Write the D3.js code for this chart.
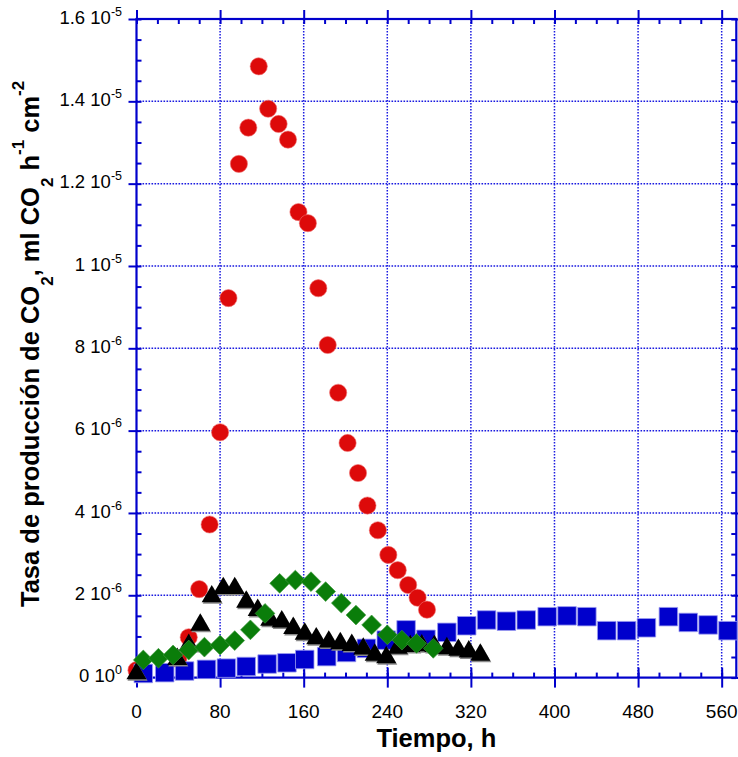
<!DOCTYPE html>
<html>
<head>
<meta charset="utf-8">
<script src="https://cdn.jsdelivr.net/npm/d3@7"></script>
<style>
  html, body { margin: 0; padding: 0; background: #fff; }
  svg { display: block; font-family: "Liberation Sans", Arial, sans-serif; }
</style>
</head>
<body>
<svg id="chart" width="738" height="757"></svg>
<script>
// ---- Data ----
const redX = [0, 40, 50, 60, 70, 80, 88, 98, 107, 117, 126, 136, 145, 155, 164, 174, 183, 193, 202, 212, 221, 231, 241, 250, 260, 269, 278];
const redY = [0.18, 0.45, 0.98, 2.15, 3.72, 5.96, 9.22, 12.48, 13.36, 14.85, 13.82, 13.45, 13.07, 11.31, 11.04, 9.46, 8.08, 6.92, 5.70, 4.97, 4.18, 3.58, 2.98, 2.61, 2.25, 1.94, 1.65];

const blackX = [0, 39, 50, 61, 72, 83, 94, 105, 116, 128, 139, 150, 161, 172, 184, 195, 206, 217, 228, 239, 250, 262, 273, 285, 297, 308, 318, 329];
const blackY = [0.10, 0.45, 0.79, 1.28, 1.97, 2.17, 2.17, 1.84, 1.64, 1.40, 1.36, 1.20, 1.06, 0.95, 0.87, 0.83, 0.79, 0.70, 0.55, 0.49, 0.72, 0.76, 0.78, 0.76, 0.71, 0.67, 0.63, 0.55];

const greenX = [6.5, 21, 35, 50, 65, 80, 94, 109, 123, 137, 152, 167, 181, 196, 210, 225, 240, 254, 268, 284];
const greenY = [0.43, 0.47, 0.55, 0.67, 0.74, 0.79, 0.90, 1.16, 1.56, 2.29, 2.37, 2.33, 2.09, 1.81, 1.52, 1.28, 1.04, 0.91, 0.83, 0.71];

const blueX = [6.5, 27, 46, 67, 86, 105, 125, 144, 161, 182, 201, 220, 239, 258, 277, 297, 316, 335, 354, 373, 393, 412, 431, 450, 469, 488, 509, 528, 547, 566];
const blueY = [0.10, 0.12, 0.16, 0.20, 0.23, 0.27, 0.33, 0.36, 0.44, 0.51, 0.61, 0.71, 0.91, 1.16, 0.93, 1.10, 1.26, 1.40, 1.37, 1.40, 1.48, 1.50, 1.48, 1.14, 1.14, 1.21, 1.48, 1.34, 1.28, 1.14];
const yUnit = 1e-6;

const xTicks = [0, 80, 160, 240, 320, 400, 480, 560];
const yTickVals = [0, 2e-6, 4e-6, 6e-6, 8e-6, 1e-5, 1.2e-5, 1.4e-5, 1.6e-5];
const yTickMant = ["0", "2", "4", "6", "8", "1", "1.2", "1.4", "1.6"];
const yTickExp  = ["0", "-6", "-6", "-6", "-6", "-5", "-5", "-5", "-5"];

// ---- Layout ----
const svg = d3.select("#chart");
const L = 136.5, R = 736.3, T = 19, B = 677.6;
const x = d3.scaleLinear().domain([0, 574]).range([L, R]);
const y = d3.scaleLinear().domain([0, 1.6e-5]).range([B, T]);
const axisBlue = "#0000cc";

// grid
const grid = svg.append("g");
grid.selectAll("line.gx").data(xTicks.filter(d => d > 0)).join("line")
  .attr("x1", d => x(d)).attr("x2", d => x(d)).attr("y1", T).attr("y2", B)
  .attr("stroke", "#1a1ae0").attr("stroke-width", 1.5).attr("stroke-dasharray", "1.6,1.4");
grid.selectAll("line.gy").data(yTickVals.filter(d => d > 0 && d < 1.6e-5)).join("line")
  .attr("x1", L).attr("x2", R).attr("y1", d => y(d)).attr("y2", d => y(d))
  .attr("stroke", "#1a1ae0").attr("stroke-width", 1.5).attr("stroke-dasharray", "1.6,1.4");

// axes via d3 axis generators
const xMinor = d3.range(0, 575, 20);
const yMinor = d3.range(0, 1.6e-5 + 1e-12, 5e-7);

function styleAxis(g) {
  g.select(".domain").remove();
  g.selectAll(".tick line").attr("stroke", axisBlue).attr("stroke-width", 2);
}
// bottom minor (inward)
svg.append("g").attr("transform", `translate(0,${B})`)
  .call(d3.axisBottom(x).tickValues(xMinor).tickSize(-5).tickFormat(""))
  .call(styleAxis);
// bottom major (crossing)
svg.append("g").attr("transform", `translate(0,${B})`)
  .call(d3.axisBottom(x).tickValues(xTicks).tickSize(10).tickFormat(""))
  .call(styleAxis);
svg.append("g").attr("transform", `translate(0,${B})`)
  .call(d3.axisBottom(x).tickValues(xTicks).tickSize(-10).tickFormat(""))
  .call(styleAxis);
// top
svg.append("g").attr("transform", `translate(0,${T})`)
  .call(d3.axisTop(x).tickValues(xMinor).tickSize(-5).tickFormat(""))
  .call(styleAxis);
svg.append("g").attr("transform", `translate(0,${T})`)
  .call(d3.axisTop(x).tickValues(xTicks).tickSize(9).tickFormat(""))
  .call(styleAxis);
// left
svg.append("g").attr("transform", `translate(${L},0)`)
  .call(d3.axisLeft(y).tickValues(yMinor).tickSize(-5).tickFormat(""))
  .call(styleAxis);
svg.append("g").attr("transform", `translate(${L},0)`)
  .call(d3.axisLeft(y).tickValues(yTickVals).tickSize(8).tickFormat(""))
  .call(styleAxis);
// right
svg.append("g").attr("transform", `translate(${R},0)`)
  .call(d3.axisRight(y).tickValues(yMinor).tickSize(-5).tickFormat(""))
  .call(styleAxis);
svg.append("g").attr("transform", `translate(${R},0)`)
  .call(d3.axisRight(y).tickValues(yTickVals).tickSize(8).tickFormat(""))
  .call(styleAxis);

// frame
svg.append("rect").attr("x", L).attr("y", T).attr("width", R - L).attr("height", B - T)
  .attr("fill", "none").attr("stroke", axisBlue).attr("stroke-width", 2.2);

// tick labels
svg.append("g").selectAll("text").data(xTicks).join("text")
  .attr("x", d => x(d)).attr("y", 718).attr("text-anchor", "middle")
  .attr("font-size", 19).attr("fill", "#000").text(d => d);

const yl = svg.append("g").selectAll("text").data(yTickVals).join("text")
  .attr("x", 122).attr("y", d => y(d) + 4.8).attr("text-anchor", "end")
  .attr("font-size", 18.5).attr("fill", "#000");
yl.append("tspan").text((d, i) => yTickMant[i] + " 10");
yl.append("tspan").attr("dy", -8).attr("font-size", 12.5).text((d, i) => yTickExp[i]);

// axis titles
svg.append("text").attr("x", (L + R) / 2).attr("y", 747).attr("text-anchor", "middle")
  .attr("font-size", 25.5).attr("font-weight", "bold").text("Tiempo, h");

const yt = svg.append("text").attr("transform", "translate(38.5,607) rotate(-90)")
  .attr("text-anchor", "start").attr("font-size", 25.5).attr("font-weight", "bold");
yt.append("tspan").text("Tasa de producción de CO");
yt.append("tspan").attr("dy", 14).attr("font-size", 17).text("2");
yt.append("tspan").attr("dy", -14).text(", ml CO");
yt.append("tspan").attr("dy", 14).attr("font-size", 17).text("2");
yt.append("tspan").attr("dy", -14).text(" h");
yt.append("tspan").attr("dy", -15).attr("font-size", 17).text("-1");
yt.append("tspan").attr("dy", 15).text(" cm");
yt.append("tspan").attr("dy", -15).attr("font-size", 17).text("-2");

// ---- Marks ----
const plot = svg.append("g");
const redData = redX.map((d, i) => [d, redY[i] * yUnit]);
const blueData = blueX.map((d, i) => [d, blueY[i] * yUnit]);
const blackData = blackX.map((d, i) => [d, blackY[i] * yUnit]);
const greenData = greenX.map((d, i) => [d, greenY[i] * yUnit]);

plot.selectAll("circle.red").data(redData).join("circle")
  .attr("cx", d => x(d[0])).attr("cy", d => y(d[1])).attr("r", 8.6)
  .attr("fill", "#dd0a0a").attr("stroke", "#f07070").attr("stroke-width", 0.6);

const sq = d3.symbol().type(d3.symbolSquare).size(18.5 * 18.5);
plot.selectAll("path.blue").data(blueData).join("path")
  .attr("transform", d => `translate(${x(d[0])},${y(d[1])})`)
  .attr("d", sq).attr("fill", "#0000cc").attr("stroke", "#9a9af0").attr("stroke-width", 0.8);

const tri = d3.symbol().type(d3.symbolTriangle).size(175);
plot.selectAll("path.blackshadow").data(blackData).join("path")
  .attr("transform", d => `translate(${x(d[0]) + 1},${y(d[1]) + 1.5})`)
  .attr("d", tri).attr("fill", "#8a8a8a");
plot.selectAll("path.black").data(blackData).join("path")
  .attr("transform", d => `translate(${x(d[0])},${y(d[1])})`)
  .attr("d", tri).attr("fill", "#000");

const dia = d3.symbol().type(d3.symbolSquare).size(14 * 14);
plot.selectAll("path.green").data(greenData).join("path")
  .attr("transform", d => `translate(${x(d[0])},${y(d[1])}) rotate(45)`)
  .attr("d", dia).attr("fill", "#0a7d0a").attr("stroke", "#3d9a3d").attr("stroke-width", 0.6);
</script>
</body>
</html>
